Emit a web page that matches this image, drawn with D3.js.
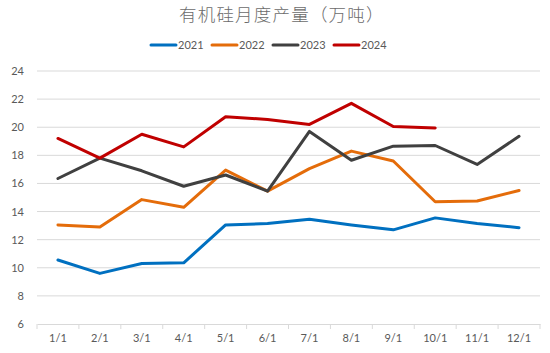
<!DOCTYPE html>
<html><head><meta charset="utf-8">
<script src="https://cdn.jsdelivr.net/npm/d3@7"></script>
<style>body{margin:0;background:#fff}svg{display:block}</style>
</head><body><svg id="c" width="550" height="353"></svg>
<script>
const categories = ["1/1","2/1","3/1","4/1","5/1","6/1","7/1","8/1","9/1","10/1","11/1","12/1"];
const s2021 = [10.55,9.6,10.3,10.35,13.05,13.15,13.45,13.05,12.7,13.55,13.15,12.85];
const s2022 = [13.05,12.9,14.85,14.3,16.95,15.45,17.05,18.3,17.6,14.7,14.75,15.5];
const s2023 = [16.35,17.8,16.9,15.8,16.6,15.45,19.7,17.65,18.65,18.7,17.35,19.35];
const s2024 = [19.2,17.8,19.5,18.6,20.75,20.55,20.2,21.7,20.05,19.95];
const seriesNames = ["2021","2022","2023","2024"];
const colors = ["#0070c0","#e46c0a","#404040","#c00000"];
const yTicks = [6,8,10,12,14,16,18,20,22,24];
const title = "有机硅月度产量（万吨）";

const svg = d3.select("#c");
const m = {l:37, r:10, t:71, b:29};
const W = 550, H = 353;
const x = d3.scaleBand().domain(categories).range([m.l, W - m.r]);
const y = d3.scaleLinear().domain([6,24]).range([324, 71]);

svg.append("text").attr("x",179).attr("y",21).attr("text-anchor","start")
  .attr("font-family","'Noto Sans CJK SC', sans-serif").attr("font-size",17.5).attr("font-weight",300)
  .attr("letter-spacing",1.2)
  .attr("fill","#6b6b6b").text(title);

// grid
svg.append("g").selectAll("line").data(yTicks.slice(1)).join("line")
  .attr("x1",m.l).attr("x2",W-m.r).attr("y1",d=>y(d)).attr("y2",d=>y(d))
  .attr("stroke","#d9d9d9").attr("stroke-width",1);

// y labels
svg.append("g").selectAll("text").data(yTicks).join("text")
  .attr("x",24).attr("y",d=>y(d)+4).attr("text-anchor","end")
  .attr("font-family","Lato, 'Open Sans', sans-serif").attr("font-size",11).attr("fill","#595959")
  .text(d=>d);

// x axis
const xa = svg.append("g").attr("transform",`translate(0,${y(6)})`)
  .call(d3.axisBottom(x).tickSize(0).tickPadding(10));
xa.select(".domain").attr("stroke","#d9d9d9");
xa.selectAll("text").attr("font-family","Lato, 'Open Sans', sans-serif").attr("font-size",11).attr("fill","#595959");
const bounds = categories.map((c)=>x(c)).concat([W-m.r]);
svg.append("g").selectAll("line").data(bounds).join("line")
  .attr("x1",d=>d).attr("x2",d=>d).attr("y1",y(6)).attr("y2",y(6)+5)
  .attr("stroke","#d9d9d9");

const all = [s2021,s2022,s2023,s2024];
const line = d3.line().x((d,i)=>x(categories[i])+x.bandwidth()/2).y(d=>y(d));
all.forEach((s,k)=>{
  svg.append("path").datum(s).attr("d",line).attr("fill","none")
    .attr("stroke",colors[k]).attr("stroke-width",3).attr("stroke-linejoin","round").attr("stroke-linecap","round");
});

// legend
const lx = [151,212,273,334];
seriesNames.forEach((n,k)=>{
  svg.append("line").attr("x1",lx[k]).attr("x2",lx[k]+25).attr("y1",45).attr("y2",45)
    .attr("stroke",colors[k]).attr("stroke-width",3).attr("stroke-linecap","round");
  svg.append("text").attr("x",lx[k]+27).attr("y",49).attr("font-family","Lato, 'Open Sans', sans-serif")
    .attr("font-size",11).attr("fill","#595959").text(n);
});
</script></body></html>
